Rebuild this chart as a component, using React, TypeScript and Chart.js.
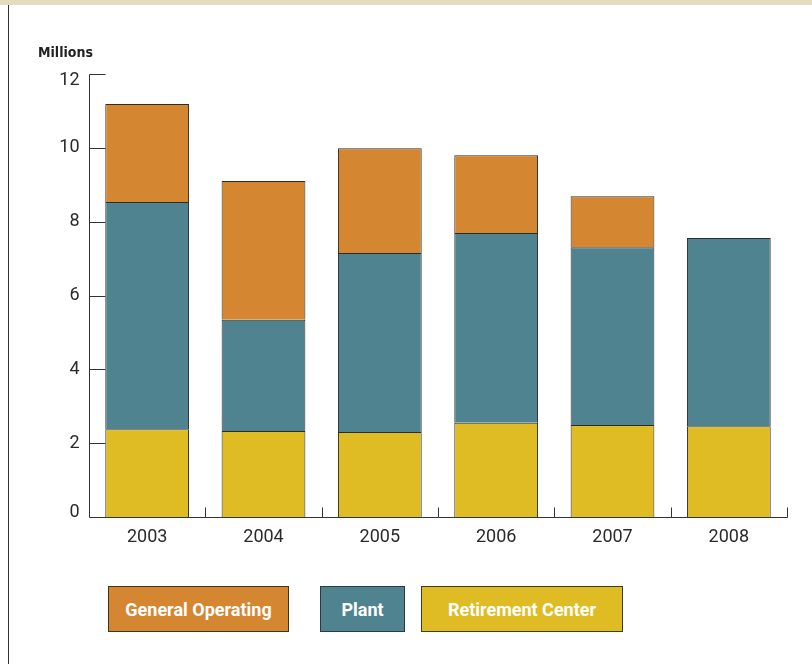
import React, { useEffect, useRef } from "react";
import { Chart, registerables } from "chart.js";

Chart.register(...registerables);

const years = ["2003", "2004", "2005", "2006", "2007", "2008"];
const retirementCenter = [2.38, 2.33, 2.3, 2.55, 2.49, 2.46];
const plant = [6.15, 3.01, 4.85, 5.14, 4.82, 5.1];
const generalOperating: (number | null)[] = [2.66, 3.76, 2.84, 2.11, 1.38, null];
const yTickValues = [0, 2, 4, 6, 8, 10, 12];
const legendNames = ["General Operating", "Plant", "Retirement Center"];
const unitLabel = "Millions";

const ORANGE = "#d48631";
const TEAL = "#508390";
const YELLOW = "#dfbc24";
const INK = "#2a2a2a";
const FONT = "Roboto, 'Liberation Sans', sans-serif";

const axisPlugin = {
  id: "customAxes",
  afterDatasetsDraw(chart: any) {
    const { ctx, chartArea, scales } = chart;
    const x = scales.x;
    const y = scales.y;
    const left = Math.round(chartArea.left) + 0.5;
    const bottom = Math.round(chartArea.bottom) + 0.5;
    const right = Math.round(chartArea.right) + 0.5;
    ctx.save();
    ctx.strokeStyle = "#333";
    ctx.lineWidth = 1;
    ctx.beginPath();
    const topPix = Math.round(y.getPixelForValue(yTickValues[yTickValues.length - 1])) + 0.5;
    ctx.moveTo(left, topPix);
    ctx.lineTo(left, bottom);
    ctx.moveTo(left, bottom);
    ctx.lineTo(right, bottom);
    yTickValues.forEach((v) => {
      if (v === 0) return;
      const py = Math.round(y.getPixelForValue(v)) + 0.5;
      ctx.moveTo(left, py);
      ctx.lineTo(left + 16, py);
    });
    for (let i = 0; i < years.length; i++) {
      const c = x.getPixelForValue(i);
      const next = i < years.length - 1 ? x.getPixelForValue(i + 1) : c + (c - x.getPixelForValue(i - 1));
      const bx = Math.round((c + next) / 2) + 0.5;
      ctx.moveTo(bx, bottom);
      ctx.lineTo(bx, bottom - 10);
    }
    ctx.stroke();

    ctx.fillStyle = INK;
    ctx.font = `400 18px ${FONT}`;
    ctx.textAlign = "right";
    ctx.textBaseline = "middle";
    yTickValues.forEach((v, i) => {
      let py = y.getPixelForValue(v);
      if (i === yTickValues.length - 1) py += 6;
      if (i === 0) py -= 5;
      ctx.fillText(String(v), left - 10, py);
    });

    ctx.font = `700 14px 'Liberation Sans Narrow', 'DejaVu Sans Condensed', 'Liberation Sans', sans-serif`;
    ctx.textAlign = "left";
    ctx.textBaseline = "alphabetic";
    ctx.fillStyle = "#222";
    ctx.fillText(unitLabel, 38, 57);
    ctx.restore();
  },
};

export default function App() {
  const ref = useRef<HTMLCanvasElement | null>(null);

  useEffect(() => {
    if (!ref.current) return;
    const chart = new Chart(ref.current, {
      type: "bar",
      data: {
        labels: years,
        datasets: [
          {
            label: legendNames[2],
            data: retirementCenter,
            backgroundColor: YELLOW,
            borderColor: "#2b2b2b",
            borderWidth: 1,
          },
          {
            label: legendNames[1],
            data: plant,
            backgroundColor: TEAL,
            borderColor: "#2b2b2b",
            borderWidth: 1,
          },
          {
            label: legendNames[0],
            data: generalOperating,
            backgroundColor: ORANGE,
            borderColor: "#2b2b2b",
            borderWidth: 1,
          },
        ],
      },
      options: {
        responsive: false,
        maintainAspectRatio: false,
        animation: false,
        layout: { padding: { left: 0, top: 74, right: 25, bottom: 0 } },
        plugins: {
          legend: { display: false },
          tooltip: { enabled: false },
        },
        datasets: {
          bar: { categoryPercentage: 1, barPercentage: 0.72 },
        },
        scales: {
          x: {
            stacked: true,
            grid: { display: false, drawTicks: false },
            border: { display: false },
            ticks: {
              color: INK,
              padding: 10,
              font: { family: FONT, size: 18, weight: "400" },
              maxRotation: 0,
            },
            afterFit: (s: any) => {
              s.height = 147;
            },
          },
          y: {
            stacked: true,
            min: 0,
            max: 12,
            grid: { display: false, drawTicks: false },
            border: { display: false },
            ticks: { display: false, stepSize: 2 },
            afterFit: (s: any) => {
              s.width = 89;
            },
          },
        },
      },
      plugins: [axisPlugin],
    });
    return () => chart.destroy();
  }, []);

  const legendItems = [
    { name: legendNames[0], color: ORANGE, border: "#3e3222", left: 108, width: 181 },
    { name: legendNames[1], color: TEAL, border: "#2c3a3f", left: 320, width: 85 },
    { name: legendNames[2], color: YELLOW, border: "#3f3a22", left: 421, width: 202 },
  ];

  return (
    <div
      style={{
        position: "fixed",
        left: 0,
        top: 0,
        width: 812,
        height: 664,
        background: "#fff",
        overflow: "hidden",
      }}
    >
      <div style={{ position: "absolute", left: 0, top: 0, width: 812, height: 5, background: "#e5dbbd" }} />
      <div style={{ position: "absolute", left: 8, top: 5, width: 1, height: 659, background: "#333" }} />
      <canvas
        ref={ref}
        width={812}
        height={664}
        style={{ position: "absolute", left: 0, top: 0, width: 812, height: 664, display: "block" }}
      />
      {legendItems.map((it) => (
        <div
          key={it.name}
          style={{
            position: "absolute",
            left: it.left,
            top: 586,
            width: it.width,
            height: 46,
            boxSizing: "border-box",
            background: it.color,
            border: `1px solid ${it.border}`,
            color: "#fff",
            fontFamily: FONT,
            fontWeight: 700,
            fontSize: 18,
            display: "flex",
            alignItems: "center",
            justifyContent: "center",
            whiteSpace: "nowrap",
          }}
        >
          {it.name}
        </div>
      ))}
    </div>
  );
}
